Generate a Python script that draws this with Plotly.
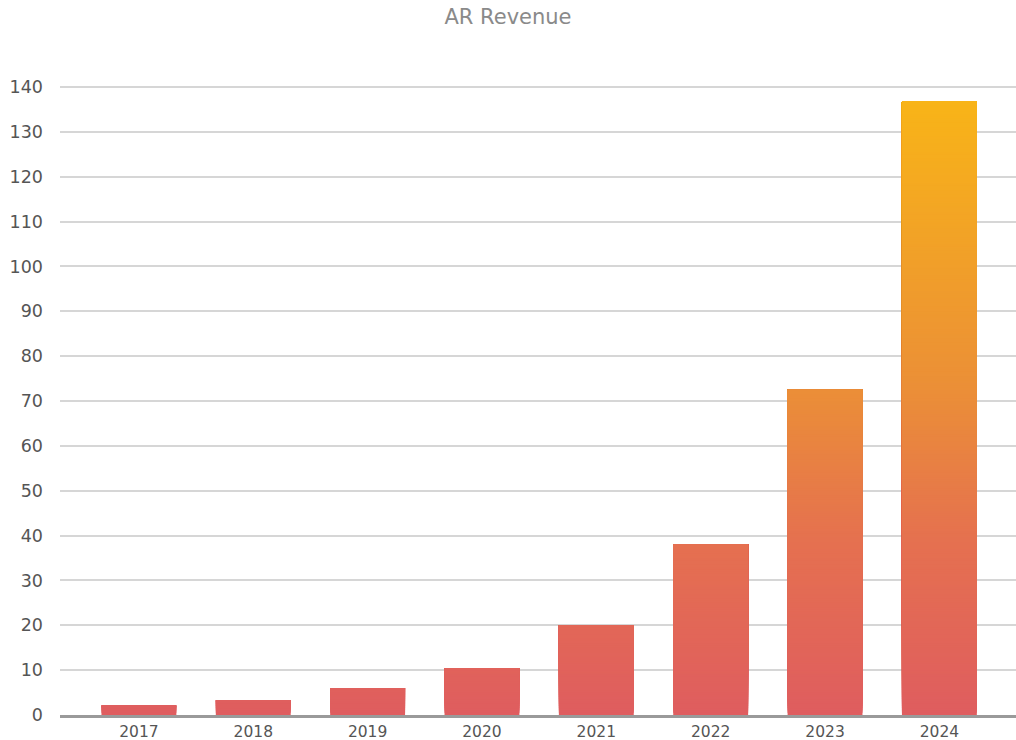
import plotly.graph_objects as go
import numpy as np

years = ["2017", "2018", "2019", "2020", "2021", "2022", "2023", "2024"]
revenue = [2.1, 3.3, 6.0, 10.5, 20.0, 38.0, 72.5, 136.7]
y_ticks = [0, 10, 20, 30, 40, 50, 60, 70, 80, 90, 100, 110, 120, 130, 140]
title_text = "AR Revenue"

# gradient stops (fraction of axis max -> rgb)
grad_stops = [(0.0, (223, 93, 95)), (0.27, (229, 112, 80)), (0.52, (235, 143, 55)), (1.0, (249, 182, 22))]
Y_MAX = 142
STEP = 0.5


def grad_color(v):
    f = min(max(v / 140.0, 0), 1)
    for (f0, c0), (f1, c1) in zip(grad_stops[:-1], grad_stops[1:]):
        if f <= f1:
            t = (f - f0) / (f1 - f0)
            c = [round(a + (b - a) * t) for a, b in zip(c0, c1)]
            return f"rgb({c[0]},{c[1]},{c[2]})"
    c = grad_stops[-1][1]
    return f"rgb({c[0]},{c[1]},{c[2]})"


# overlapping layers: each layer from base b up to bar top, coloured by colour at b
seg_x, seg_base, seg_h, seg_col = [], [], [], []
for yr, v in zip(years, revenue):
    for b in np.arange(0, v, STEP):
        seg_x.append(yr)
        seg_base.append(float(b))
        seg_h.append(float(v - b))
        seg_col.append(grad_color(float(b)))

fig = go.Figure()
fig.add_trace(go.Bar(
    x=seg_x, y=seg_h, base=seg_base,
    marker=dict(color=seg_col, line=dict(width=0)),
    width=0.655,
    hoverinfo="skip",
    showlegend=False,
))

FONT = "DejaVu Sans, sans-serif"
fig.update_layout(
    width=1016, height=740,
    margin=dict(l=60, r=0, t=78, b=25),
    paper_bgcolor="white", plot_bgcolor="white",
    barmode="overlay",
    font=dict(family=FONT, color="#555555"),
    title=dict(text=title_text, x=0.5, xanchor="center", y=1 - 17 / 740, yanchor="middle",
               yref="container", font=dict(family=FONT, size=21, color="#8a8a8a")),
    xaxis=dict(
        type="category", categoryorder="array", categoryarray=years,
        range=[-0.69, 7.67],
        showline=True, linecolor="#9a9a9a", linewidth=2.5,
        showgrid=False, ticks="", tickfont=dict(family=FONT, size=15.5, color="#555555"),
        ticklabelstandoff=1,
    ),
    yaxis=dict(
        range=[0, Y_MAX], tickvals=y_ticks, ticktext=[str(t) for t in y_ticks],
        showgrid=True, gridcolor="#d6d6d6", gridwidth=1.6,
        zeroline=False, showline=False, ticks="",
        tickfont=dict(family=FONT, size=17.5, color="#555555"),
        ticklabelstandoff=16,
    ),
)

fig.write_html("out.html", config={"displayModeBar": False},
               post_script="document.body.style.margin='0';document.body.style.overflow='hidden';")
